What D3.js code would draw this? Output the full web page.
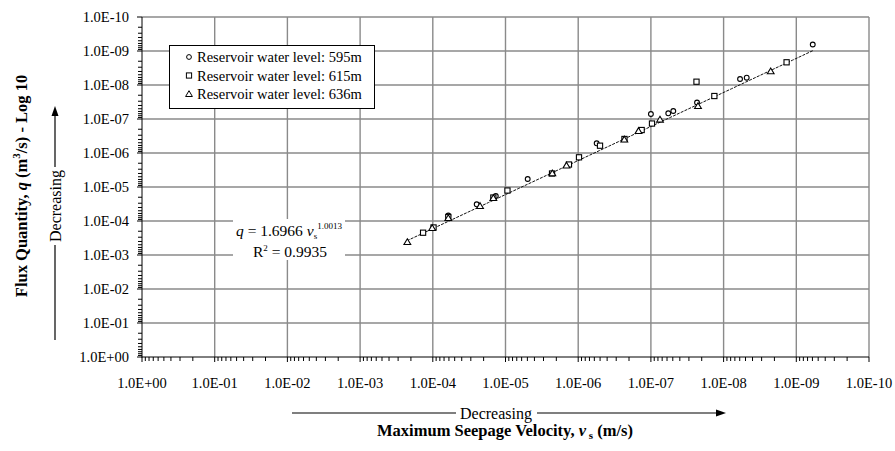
<!DOCTYPE html>
<html>
<head>
<meta charset="utf-8">
<script src="https://cdn.jsdelivr.net/npm/d3@7"></script>
<style>
  html, body { margin: 0; padding: 0; background: #fff; }
  svg { display: block; }
  svg text { font-family: "Liberation Serif", Tinos, "Times New Roman", Times, "DejaVu Serif", serif; }
</style>
</head>
<body>
<svg id="chart" width="895" height="451"></svg>
<script>
// Maximum seepage velocity v_s (m/s) and flux quantity q (m^3/s)
const v595 = [6.12e-5, 2.49e-5, 1.36e-5, 4.95e-6, 5.57e-7, 1.00e-7, 5.77e-8, 4.92e-8, 2.32e-8, 5.94e-9, 4.81e-9, 5.94e-10];
const q595 = [6.89e-5, 3.23e-5, 1.84e-5, 5.82e-6, 5.19e-7, 7.13e-8, 6.79e-8, 5.82e-8, 3.27e-8, 6.67e-9, 6.10e-9, 6.44e-10];

const v615 = [1.36e-4, 9.77e-5, 6.12e-5, 1.47e-5, 9.40e-6, 2.29e-6, 1.34e-6, 9.75e-7, 5.01e-7, 2.31e-7, 1.34e-7, 9.66e-8, 2.36e-8, 1.34e-8, 1.36e-9];
const q615 = [2.21e-4, 1.55e-4, 7.62e-5, 2.04e-5, 1.27e-5, 4.01e-6, 2.18e-6, 1.34e-6, 6.10e-7, 3.87e-7, 2.11e-7, 1.36e-7, 8.00e-9, 2.11e-8, 2.15e-9];

const v636 = [2.24e-4, 1.02e-4, 6.12e-5, 2.24e-5, 1.47e-5, 2.27e-6, 1.45e-6, 2.32e-7, 1.48e-7, 7.50e-8, 2.25e-8, 2.25e-9];
const q636 = [4.15e-4, 1.61e-4, 8.17e-5, 3.62e-5, 2.11e-5, 3.95e-6, 2.33e-6, 4.01e-7, 2.25e-7, 1.04e-7, 4.15e-8, 3.95e-9];

const seriesNames = ["Reservoir water level: 595m", "Reservoir water level: 615m", "Reservoir water level: 636m"];
const seriesShapes = ["circle", "square", "triangle"];

// Power trendline q = a * v^b
const fitA = 1.6966;
const fitB = 1.0013;
const fitR2 = 0.9935;

const tickExponents = [0, -1, -2, -3, -4, -5, -6, -7, -8, -9, -10];
const tickLabels = ["1.0E+00", "1.0E-01", "1.0E-02", "1.0E-03", "1.0E-04", "1.0E-05",
                    "1.0E-06", "1.0E-07", "1.0E-08", "1.0E-09", "1.0E-10"];

const svg = d3.select("#chart");
const plot = { left: 142, right: 869, top: 17, bottom: 357 };

const x = d3.scaleLog().domain([1, 1e-10]).range([plot.left, plot.right]);
const y = d3.scaleLog().domain([1, 1e-10]).range([plot.bottom, plot.top]);

const majors = tickExponents.map(e => Math.pow(10, e));
const minors = [];
tickExponents.slice(1).forEach(e => {
  for (let m = 2; m <= 9; m++) minors.push(m * Math.pow(10, e));
});

const gridColor = "#8a8a8a";

// Grid lines
const grid = svg.append("g");
grid.selectAll("line.gx").data(majors.slice(1)).join("line")
  .attr("x1", d => x(d)).attr("x2", d => x(d))
  .attr("y1", plot.top).attr("y2", plot.bottom)
  .attr("stroke", gridColor).attr("stroke-width", 1.4);
grid.selectAll("line.gy").data(majors.slice(1)).join("line")
  .attr("x1", plot.left).attr("x2", plot.right)
  .attr("y1", d => y(d)).attr("y2", d => y(d))
  .attr("stroke", gridColor).attr("stroke-width", 1.4);

// Axes with log minor ticks
const axisG = svg.append("g").attr("stroke", "#000").attr("stroke-width", 1);
axisG.append("line").attr("x1", plot.left).attr("x2", plot.left)
  .attr("y1", plot.top).attr("y2", plot.bottom + 0.5);
axisG.append("line").attr("x1", plot.left - 0.5).attr("x2", plot.right)
  .attr("y1", plot.bottom).attr("y2", plot.bottom);

axisG.selectAll("line.ymaj").data(majors).join("line")
  .attr("x1", plot.left - 5).attr("x2", plot.left)
  .attr("y1", d => y(d)).attr("y2", d => y(d));
axisG.selectAll("line.ymin").data(minors).join("line")
  .attr("x1", plot.left - 4).attr("x2", plot.left)
  .attr("y1", d => y(d)).attr("y2", d => y(d));
axisG.selectAll("line.xmaj").data(majors).join("line")
  .attr("x1", d => x(d)).attr("x2", d => x(d))
  .attr("y1", plot.bottom).attr("y2", plot.bottom + 5);
axisG.selectAll("line.xmin").data(minors).join("line")
  .attr("x1", d => x(d)).attr("x2", d => x(d))
  .attr("y1", plot.bottom).attr("y2", plot.bottom + 4);

// Tick labels
svg.append("g").selectAll("text").data(majors).join("text")
  .attr("x", 129).attr("y", d => y(d) + 5)
  .attr("text-anchor", "end").attr("font-size", 14.5)
  .text((d, i) => tickLabels[i]);
svg.append("g").selectAll("text").data(majors).join("text")
  .attr("x", d => x(d)).attr("y", 387.5)
  .attr("text-anchor", "middle").attr("font-size", 14.5)
  .text((d, i) => tickLabels[i]);

// Trendline over the range of the data
const allV = v595.concat(v615, v636);
const vExt = d3.extent(allV);
const fitPts = d3.range(0, 41).map(i => {
  const lv = Math.log10(vExt[0]) + (Math.log10(vExt[1]) - Math.log10(vExt[0])) * i / 40;
  const v = Math.pow(10, lv);
  return [v, fitA * Math.pow(v, fitB)];
});
svg.append("path")
  .attr("d", d3.line().x(d => x(d[0])).y(d => y(d[1]))(fitPts))
  .attr("fill", "none").attr("stroke", "#111").attr("stroke-width", 1)
  .attr("stroke-dasharray", "3,1.2");

// Markers
function drawMarker(g, shape, cx, cy) {
  if (shape === "circle") {
    g.append("circle").attr("cx", cx).attr("cy", cy).attr("r", 2.4);
  } else if (shape === "square") {
    g.append("rect").attr("x", cx - 2.6).attr("y", cy - 2.6).attr("width", 5.2).attr("height", 5.2);
  } else {
    g.append("path").attr("d", `M${cx},${cy - 3.3}L${cx + 3.4},${cy + 2.5}L${cx - 3.4},${cy + 2.5}Z`);
  }
}
const seriesData = [[v595, q595], [v615, q615], [v636, q636]];
const markG = svg.append("g").attr("fill", "#fff").attr("stroke", "#000").attr("stroke-width", 1.1);
seriesData.forEach(([vs, qs], s) => {
  vs.forEach((v, i) => drawMarker(markG, seriesShapes[s], x(v), y(qs[i])));
});

// Legend
const legend = svg.append("g");
legend.append("rect").attr("x", 169.5).attr("y", 45.5).attr("width", 205).attr("height", 63)
  .attr("fill", "#fff").attr("stroke", "#000").attr("stroke-width", 1);
const legMarks = legend.append("g").attr("fill", "#fff").attr("stroke", "#000").attr("stroke-width", 1);
seriesNames.forEach((name, i) => {
  const cy = 57 + i * 18.5;
  drawMarker(legMarks, seriesShapes[i], 189, cy);
  legend.append("text").attr("x", 197).attr("y", cy + 5).attr("font-size", 14.5).text(name);
});

// Trendline equation
svg.append("rect").attr("x", 233).attr("y", 219).attr("width", 112).attr("height", 41).attr("fill", "#fff");
const eq = svg.append("text").attr("x", 236).attr("y", 236).attr("font-size", 15.5);
eq.append("tspan").attr("font-style", "italic").text("q");
eq.append("tspan").text(" = " + fitA.toFixed(4) + " ");
eq.append("tspan").attr("font-style", "italic").text("v");
eq.append("tspan").attr("font-size", 9).attr("dy", 3).text("s");
eq.append("tspan").attr("font-size", 9).attr("dy", -10).text(fitB.toFixed(4));
const r2 = svg.append("text").attr("x", 253).attr("y", 257).attr("font-size", 15.5);
r2.append("tspan").text("R");
r2.append("tspan").attr("font-size", 9).attr("dy", -6).text("2");
r2.append("tspan").attr("dy", 6).text(" = " + fitR2.toFixed(4));

// Y axis title
const yt = svg.append("text")
  .attr("transform", "translate(27,186) rotate(-90)")
  .attr("text-anchor", "middle").attr("font-size", 16.5).attr("font-weight", "bold");
yt.append("tspan").text("Flux Quantity, ");
yt.append("tspan").attr("font-style", "italic").text("q");
yt.append("tspan").text(" (m");
yt.append("tspan").attr("font-size", 11).attr("dy", -7).text("3");
yt.append("tspan").attr("dy", 7).text("/s) - Log 10");

// X axis title
const xt = svg.append("text").attr("x", 505).attr("y", 436)
  .attr("text-anchor", "middle").attr("font-size", 16.5).attr("font-weight", "bold");
xt.append("tspan").text("Maximum Seepage Velocity, ");
xt.append("tspan").attr("font-style", "italic").text("v");
xt.append("tspan").attr("font-size", 11).attr("dy", 3).text(" s");
xt.append("tspan").attr("dy", -3).text(" (m/s)");

// Direction arrows
const arrows = svg.append("g").attr("stroke", "#000").attr("stroke-width", 1.2);
arrows.append("line").attr("x1", 292).attr("x2", 456).attr("y1", 413).attr("y2", 413);
arrows.append("line").attr("x1", 537).attr("x2", 718).attr("y1", 413).attr("y2", 413);
svg.append("path").attr("d", "M726,413L716,409.5L716,416.5Z").attr("fill", "#000");
svg.append("text").attr("x", 496).attr("y", 418.5).attr("text-anchor", "middle")
  .attr("font-size", 16).text("Decreasing");

arrows.append("line").attr("x1", 55).attr("x2", 55).attr("y1", 114).attr("y2", 167);
arrows.append("line").attr("x1", 55).attr("x2", 55).attr("y1", 245).attr("y2", 340);
svg.append("path").attr("d", "M55,106L51.5,116L58.5,116Z").attr("fill", "#000");
svg.append("text").attr("transform", "translate(60.5,206) rotate(-90)")
  .attr("text-anchor", "middle").attr("font-size", 16).text("Decreasing");
</script>
</body>
</html>
